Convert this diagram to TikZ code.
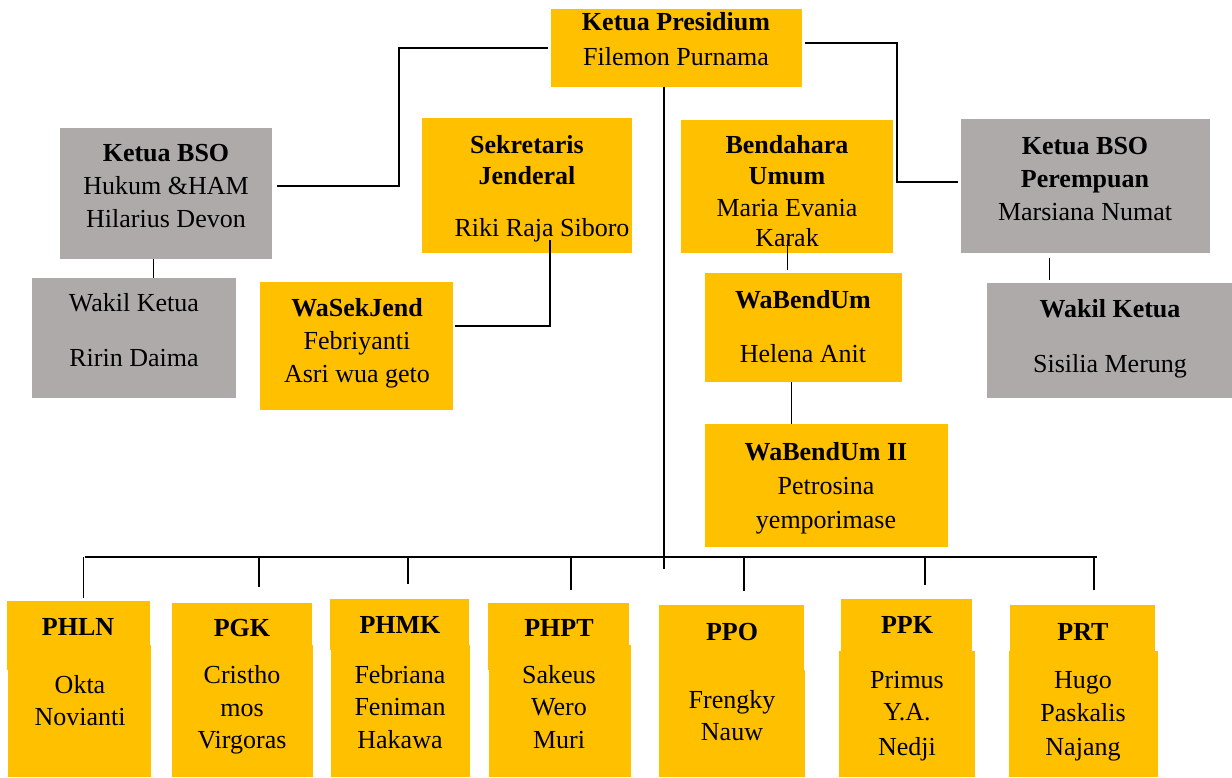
\documentclass[tikz,border=0pt]{standalone}
\usepackage{fontspec}
\setmainfont{Liberation Serif}
\definecolor{org}{HTML}{FFC000}
\definecolor{gry}{HTML}{AEAAAA}
\tikzset{
  box/.style={draw=none, inner sep=0pt, outer sep=0pt, rectangle},
  txt/.style={anchor=base, inner sep=0pt, font=\fontsize{26}{33}\selectfont},
  txtb/.style={anchor=base, inner sep=0pt, font=\fontsize{26}{33}\selectfont\bfseries},
  conn/.style={draw=black, line width=2pt},
  thin/.style={draw=black, line width=1pt}
}
\newcommand\bx[6]{\node[box,fill=#6,minimum width={(#4-#2)*1pt},minimum height={(#5-#3)*1pt}] (#1) at ({(#2+#4)/2},{(#3+#5)/2}) {};}
\newcommand\tx[4]{\node[txt] (#1) at (#2,{#3+8.5}) {#4};}
\newcommand\tb[4]{\node[txtb] (#1) at (#2,{#3+8.5}) {#4};}
\begin{document}
\begin{tikzpicture}[x=1pt,y=-1pt]
\useasboundingbox (0,0) rectangle (1232,778);
% ---------- boxes ----------
\bx{pres}{551}{9}{802}{87}{org}
\bx{bsoh}{60}{128}{272}{259}{gry}
\bx{wakl}{32}{278}{236}{398}{gry}
\bx{sekj}{422}{118}{632}{253}{org}
\bx{wasek}{260}{282}{453}{410}{org}
\bx{bend}{681}{120}{893}{253}{org}
\bx{wabend}{705}{273}{902}{382}{org}
\bx{wabendb}{705}{424}{948}{547}{org}
\bx{bsop}{961}{119}{1210}{253}{gry}
\bx{wakr}{987}{283}{1232}{398}{gry}
% bottom row (header + body)
\bx{phlnH}{7}{601}{150}{670}{org}
\bx{phlnB}{8}{645}{151}{777}{org}
\bx{pgkH}{172}{603}{312}{670}{org}
\bx{pgkB}{172}{645}{313}{777}{org}
\bx{phmkH}{330}{599}{469}{650}{org}
\bx{phmkB}{331}{645}{470}{777}{org}
\bx{phptH}{488}{603}{629}{670}{org}
\bx{phptB}{489}{645}{631}{777}{org}
\bx{ppoH}{659}{605}{804}{670}{org}
\bx{ppoB}{659}{670}{805}{777}{org}
\bx{ppkH}{841}{599}{972}{651}{org}
\bx{ppkB}{839}{651}{975}{777}{org}
\bx{prtH}{1010}{605}{1155}{651}{org}
\bx{prtB}{1009}{651}{1158}{777}{org}
% ---------- texts ----------
\tb{t1}{676}{22}{Ketua Presidium}
\tx{t2}{676}{57}{Filemon Purnama}
\tb{t3}{166}{153}{Ketua BSO}
\tx{t4}{166}{186}{Hukum \&HAM}
\tx{t5}{166}{219}{Hilarius Devon}
\tx{t6}{134}{303}{Wakil Ketua}
\tx{t7}{134}{358}{Ririn Daima}
\tb{t8}{527}{145}{Sekretaris}
\tb{t9}{527}{176}{Jenderal}
\tx{t10}{542}{228}{Riki Raja Siboro}
\tb{t11}{357}{308}{WaSekJend}
\tx{t12}{357}{341}{Febriyanti}
\tx{t13}{357}{374}{Asri wua geto}
\tb{t14}{787}{145}{Bendahara}
\tb{t15}{787}{176}{Umum}
\tx{t16}{787}{208}{Maria Evania}
\tx{t17}{787}{238}{Karak}
\tb{t18}{803}{300}{WaBendUm}
\tx{t19}{803}{354}{Helena Anit}
\tb{t20}{826}{452}{WaBendUm II}
\tx{t21}{826}{486}{Petrosina}
\tx{t22}{826}{520}{yemporimase}
\tb{t23}{1085}{146}{Ketua BSO}
\tb{t24}{1085}{179}{Perempuan}
\tx{t25}{1085}{212}{Marsiana Numat}
\tb{t26}{1110}{309}{Wakil Ketua}
\tx{t27}{1110}{364}{Sisilia Merung}
% bottom texts
\tb{b1}{78}{627}{PHLN}
\tx{b2}{80}{685}{Okta}
\tx{b3}{80}{717}{Novianti}
\tb{b4}{242}{628}{PGK}
\tx{b5}{242}{675}{Cristho}
\tx{b6}{242}{708}{mos}
\tx{b7}{242}{740}{Virgoras}
\tb{b8}{400}{625}{PHMK}
\tx{b9}{400}{675}{Febriana}
\tx{b10}{400}{707}{Feniman}
\tx{b11}{400}{740}{Hakawa}
\tb{b12}{559}{628}{PHPT}
\tx{b13}{559}{675}{Sakeus}
\tx{b14}{559}{707}{Wero}
\tx{b15}{559}{740}{Muri}
\tb{b16}{732}{632}{PPO}
\tx{b17}{732}{700}{Frengky}
\tx{b18}{732}{732}{Nauw}
\tb{b19}{907}{625}{PPK}
\tx{b20}{907}{680}{Primus}
\tx{b21}{907}{712}{Y.A.}
\tx{b22}{907}{747}{Nedji}
\tb{b23}{1083}{632}{PRT}
\tx{b24}{1083}{680}{Hugo}
\tx{b25}{1083}{713}{Paskalis}
\tx{b26}{1083}{747}{Najang}
% ---------- connectors ----------
\draw[conn] ([xshift=-3pt,yshift=0pt]pres.west) -| (399,186) -- ([xshift=5pt,yshift=7.5pt]bsoh.east);
\draw[conn] ([xshift=3pt,yshift=5pt]pres.east) -| (897,182) -- ([xshift=-3pt,yshift=4pt]bsop.west);
\draw[thin] (bsoh.south -| 153,0) -- (wakl.north -| 153,0);
\draw[conn] ([shift={(23,-13)}]sekj.south) |- ([xshift=2pt,yshift=20pt]wasek.east);
\draw[thin] ([yshift=13pt]bend.south) -- ([yshift=3pt]wabend.north -| bend.south);
\draw[thin] ([xshift=-12pt]wabend.south) -- ([xshift=-12pt]wabend.south |- wabendb.north);
\draw[thin] (1049,258) -- (1049,280);
\draw[conn] ([xshift=-13pt]pres.south) -- ++(0,482);
\coordinate (busL) at (85,557);
\coordinate (busR) at (1097,557);
\draw[conn] (busL) -- (busR);
\coordinate (d1) at (83,598);
\coordinate (d2) at (259,587);
\coordinate (d3) at (408,584);
\coordinate (d4) at (571,590);
\coordinate (d5) at (744,591);
\coordinate (d6) at (925,585);
\coordinate (d7) at (1094,590);
\draw[thin] (d1 |- busL) -- (d1);
\foreach \d in {d2,d3,d4,d5,d6,d7} \draw[conn] (\d |- busL) -- (\d);
\end{tikzpicture}
\end{document}
